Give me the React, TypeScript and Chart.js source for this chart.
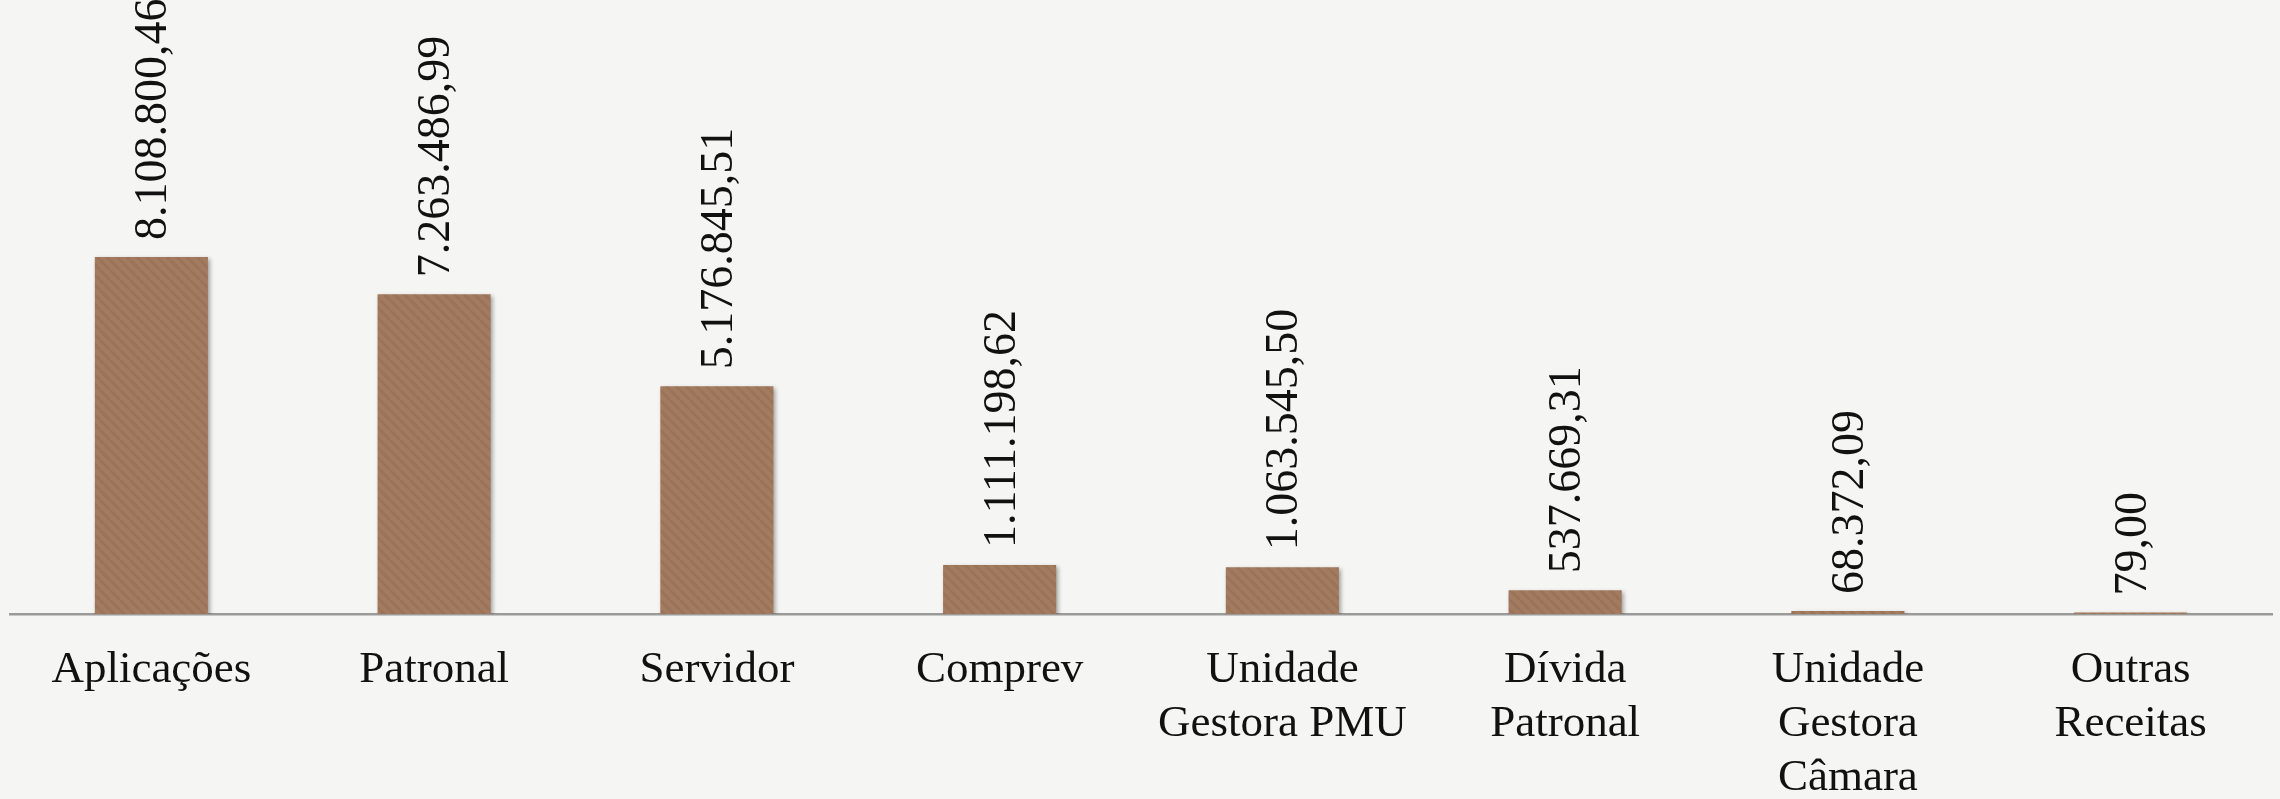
import React, { useEffect, useRef } from "react";
import { Chart, registerables } from "chart.js";

Chart.register(...registerables);

const categories: (string | string[])[] = [
  "Aplicações",
  "Patronal",
  "Servidor",
  "Comprev",
  ["Unidade", "Gestora PMU"],
  ["Dívida", "Patronal"],
  ["Unidade", "Gestora", "Câmara"],
  ["Outras", "Receitas"],
];

const values: number[] = [
  8108800.46, 7263486.99, 5176845.51, 1111198.62, 1063545.5, 537669.31, 68372.09, 79.0,
];

const yMin = 0;
const yMax = 13950000;

function formatBR(v: number): string {
  const fixed = v.toFixed(2);
  const [intPart, dec] = fixed.split(".");
  const withDots = intPart.replace(/\B(?=(\d{3})+(?!\d))/g, ".");
  return withDots + "," + dec;
}

const FONT = "'Liberation Serif', 'DejaVu Serif', serif";

function makePattern(): CanvasPattern | string {
  const c = document.createElement("canvas");
  c.width = 10;
  c.height = 10;
  const g = c.getContext("2d");
  if (!g) return "#a0785f";
  g.fillStyle = "#a37b60";
  g.fillRect(0, 0, 10, 10);
  g.strokeStyle = "rgba(125,88,64,0.22)";
  g.lineWidth = 3;
  for (let k = -10; k <= 20; k += 10) {
    g.beginPath();
    g.moveTo(k, 0);
    g.lineTo(k + 10, 10);
    g.stroke();
  }
  const p = g.createPattern(c, "repeat");
  return p || "#a0785f";
}

export default function App() {
  const ref = useRef<HTMLCanvasElement | null>(null);

  useEffect(() => {
    document.body.style.margin = "0";
    const canvas = ref.current;
    if (!canvas) return;

    const shadowPlugin = {
      id: "barShadow",
      beforeDatasetsDraw(chart: any) {
        const ctx = chart.ctx;
        ctx.save();
        ctx.shadowColor = "rgba(0,0,0,0.35)";
        ctx.shadowBlur = 4;
        ctx.shadowOffsetX = 2;
        ctx.shadowOffsetY = 2;
      },
      afterDatasetsDraw(chart: any) {
        chart.ctx.restore();
      },
    };

    const labelPlugin = {
      id: "valueLabels",
      afterDraw(chart: any) {
        const ctx = chart.ctx;
        const meta = chart.getDatasetMeta(0);
        ctx.save();
        ctx.fillStyle = "#111";
        ctx.font = `46px ${FONT}`;
        ctx.textAlign = "left";
        ctx.textBaseline = "middle";
        meta.data.forEach((el: any, i: number) => {
          ctx.save();
          ctx.translate(el.x + 3, el.y - 17);
          ctx.rotate(-Math.PI / 2);
          ctx.fillText(formatBR(values[i]), 0, 0);
          ctx.restore();
        });
        ctx.restore();
      },
    };

    const chart = new Chart(canvas, {
      type: "bar",
      data: {
        labels: categories,
        datasets: [
          {
            data: values,
            backgroundColor: makePattern() as any,
            borderWidth: 0,
            barPercentage: 0.4,
            categoryPercentage: 1.0,
            minBarLength: 1.5,
          },
        ],
      },
      options: {
        animation: false,
        responsive: false,
        maintainAspectRatio: false,
        layout: { padding: { left: 10, right: 8, top: 0, bottom: 0 } },
        plugins: {
          legend: { display: false },
          tooltip: { enabled: false },
          title: { display: false },
        },
        scales: {
          x: {
            type: "category",
            offset: true,
            grid: { display: false, drawTicks: false },
            border: { display: true, color: "#9a9a9a", width: 2.5 },
            ticks: {
              color: "#111",
              font: { family: FONT, size: 45, lineHeight: 1.2 },
              padding: 29,
              maxRotation: 0,
              minRotation: 0,
              autoSkip: false,
            },
            afterFit: (scale: any) => {
              scale.height = 185;
            },
          },
          y: {
            display: false,
            min: yMin,
            max: yMax,
          },
        },
      },
      plugins: [shadowPlugin, labelPlugin],
    });

    return () => {
      chart.destroy();
    };
  }, []);

  return (
    <div
      style={{
        position: "fixed",
        left: 0,
        top: 0,
        width: 2280,
        height: 799,
        background: "#f5f5f3",
      }}
    >
      <canvas ref={ref} width={2280} height={799} style={{ width: 2280, height: 799 }} />
    </div>
  );
}
